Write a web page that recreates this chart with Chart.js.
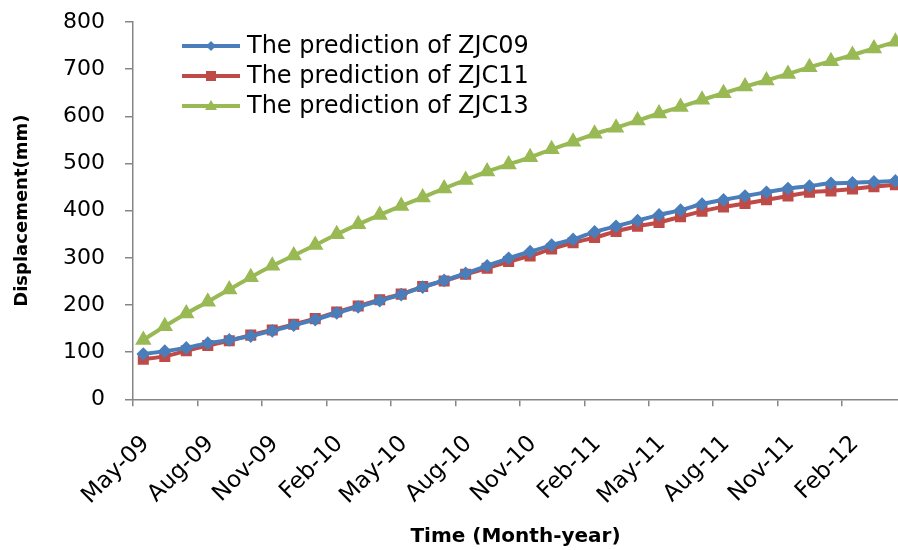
<!DOCTYPE html>
<html>
<head>
<meta charset="utf-8">
<script src="https://cdn.jsdelivr.net/npm/chart.js@4.4.1/dist/chart.umd.min.js"></script>
<style>
  body { margin: 0; background: #fff; }
  #wrap { width: 898px; height: 550px; }
</style>
</head>
<body>
<div id="wrap"><canvas id="myChart" width="898" height="550"></canvas></div>
<script>
// month categories, May-09 .. Apr-12
const months = ["May-09","Jun-09","Jul-09","Aug-09","Sep-09","Oct-09","Nov-09","Dec-09",
  "Jan-10","Feb-10","Mar-10","Apr-10","May-10","Jun-10","Jul-10","Aug-10","Sep-10","Oct-10",
  "Nov-10","Dec-10","Jan-11","Feb-11","Mar-11","Apr-11","May-11","Jun-11","Jul-11","Aug-11",
  "Sep-11","Oct-11","Nov-11","Dec-11","Jan-12","Feb-12","Mar-12","Apr-12"];
// labelled ticks (index into months)
const tickMonths = [0, 3, 6, 9, 12, 15, 18, 21, 24, 27, 30, 33];
const yTicks = [0, 100, 200, 300, 400, 500, 600, 700, 800];

// predicted displacement (mm)
const zjc09 = [96,102,109,119,126,134,145,157,169,183,196,209,222,238,252,267,283,299,
  313,327,339,355,367,379,391,401,414,423,431,439,447,452,458,459,461,463];
const zjc11 = [85,91,103,114,124,136,147,159,171,185,198,211,223,239,251,265,278,292,
  304,319,332,343,356,367,375,387,399,408,415,423,431,439,442,446,451,455];
const zjc13 = [126,155,182,207,233,259,283,305,327,350,371,391,410,428,447,465,483,498,
  513,530,546,563,576,591,606,620,635,649,663,676,690,704,717,730,744,758];

const seriesNames = ["The prediction of ZJC09", "The prediction of ZJC11", "The prediction of ZJC13"];

function toPoints(arr) {
  // each value sits in the middle of its month
  return arr.map((v, i) => ({ x: i + 0.48, y: v }));
}

const axisGray = "#868686";
const fontFam = "'DejaVu Sans', sans-serif";

// legend drawn inside the plot, line + marker like the original
const insideLegend = {
  id: "insideLegend",
  afterDraw(chart) {
    const ctx = chart.ctx;
    chart.data.datasets.forEach((ds, i) => {
      const y = 46 + i * 30;
      ctx.save();
      ctx.strokeStyle = ds.borderColor;
      ctx.lineWidth = 4;
      ctx.beginPath();
      ctx.moveTo(182, y);
      ctx.lineTo(240, y);
      ctx.stroke();
      ctx.fillStyle = ds.pointBackgroundColor;
      const cx = 211;
      ctx.beginPath();
      if (ds.pointStyle === "rectRot") {
        ctx.moveTo(cx, y - 5); ctx.lineTo(cx + 5, y); ctx.lineTo(cx, y + 5); ctx.lineTo(cx - 5, y);
      } else if (ds.pointStyle === "rect") {
        ctx.rect(cx - 5, y - 5, 10, 10);
      } else {
        ctx.moveTo(cx, y - 6); ctx.lineTo(cx + 6, y + 4); ctx.lineTo(cx - 6, y + 4);
      }
      ctx.closePath();
      ctx.fill();
      ctx.fillStyle = "#000";
      ctx.font = "24px " + fontFam;
      ctx.textBaseline = "middle";
      ctx.fillText(ds.label, 247, y + 1);
      ctx.restore();
    });
  }
};

const ctx = document.getElementById("myChart");
const chart = new Chart(ctx, {
  type: "line",
  data: {
    datasets: [
      {
        label: seriesNames[0],
        data: toPoints(zjc09),
        borderColor: "#4A7EBB",
        backgroundColor: "#4A7EBB",
        pointBackgroundColor: "#4A7EBB",
        pointBorderColor: "#4A7EBB",
        pointStyle: "rectRot",
        pointRadius: 4,
        borderWidth: 4,
        tension: 0.2,
      },
      {
        label: seriesNames[1],
        data: toPoints(zjc11),
        borderColor: "#BE4B48",
        backgroundColor: "#BE4B48",
        pointBackgroundColor: "#BE4B48",
        pointBorderColor: "#BE4B48",
        pointStyle: "rect",
        pointRadius: 5,
        borderWidth: 4,
        tension: 0.2,
      },
      {
        label: seriesNames[2],
        data: toPoints(zjc13),
        borderColor: "#98B954",
        backgroundColor: "#98B954",
        pointBackgroundColor: "#98B954",
        pointBorderColor: "#98B954",
        pointStyle: "triangle",
        pointRadius: 5.5,
        borderWidth: 4,
        tension: 0.2,
      },
    ],
  },
  options: {
    responsive: false,
    animation: false,
    devicePixelRatio: 1,
    layout: { autoPadding: false, padding: { top: 22, right: 0, left: 0, bottom: 0 } },
    plugins: {
      legend: { display: false },
      tooltip: { enabled: false },
    },
    scales: {
      x: {
        type: "linear",
        min: 0,
        max: 35.6,
        afterBuildTicks: (scale) => {
          scale.ticks = tickMonths.map((v) => ({ value: v }));
        },
        afterFit: (scale) => {
          scale.height = 150.7;
          scale.paddingLeft = 0;
          scale.paddingRight = 0;
        },
        ticks: {
          autoSkip: false,
          maxRotation: 45,
          minRotation: 45,
          labelOffset: 13,
          padding: 24,
          color: "#000",
          font: { family: fontFam, size: 23 },
          callback: (v) => months[v],
        },
        grid: {
          drawOnChartArea: false,
          tickLength: 7,
          color: axisGray,
          lineWidth: 1.5,
        },
        border: { color: axisGray, width: 1.5 },
        title: {
          display: true,
          text: "Time (Month-year)",
          color: "#000",
          font: { family: fontFam, size: 20, weight: "bold" },
          padding: { top: 4, bottom: 1 },
        },
      },
      y: {
        min: 0,
        max: 800,
        afterBuildTicks: (scale) => {
          scale.ticks = yTicks.map((v) => ({ value: v }));
        },
        afterFit: (scale) => {
          scale.width = 133;
          scale.paddingTop = 0;
          scale.paddingBottom = 0;
        },
        ticks: {
          padding: 20,
          color: "#000",
          font: { family: fontFam, size: 22 },
        },
        grid: {
          drawOnChartArea: false,
          tickLength: 8,
          color: axisGray,
          lineWidth: 1.5,
        },
        border: { color: axisGray, width: 1.5 },
        title: {
          display: true,
          text: "Displacement(mm)",
          color: "#000",
          font: { family: fontFam, size: 18, weight: "bold" },
          padding: { top: 12, bottom: 0 },
        },
      },
    },
  },
  plugins: [insideLegend],
});
</script>
</body>
</html>
